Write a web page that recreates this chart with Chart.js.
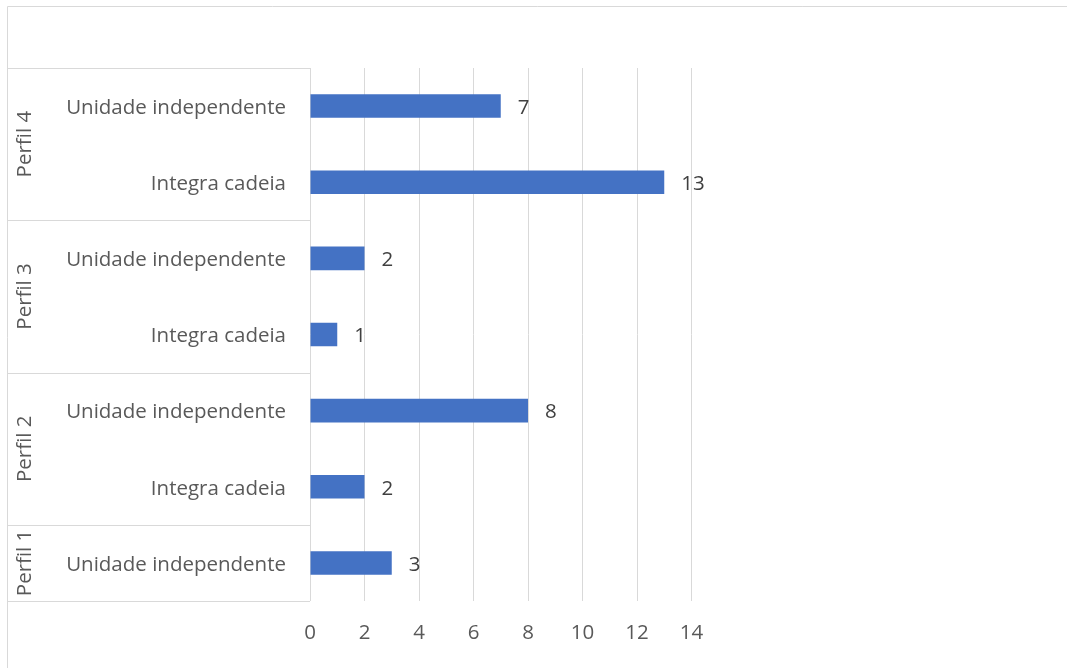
<!DOCTYPE html>
<html>
<head>
<meta charset="utf-8">
<script src="https://cdn.jsdelivr.net/npm/chart.js@4.4.1/dist/chart.umd.min.js"></script>
<style>
  html, body { margin: 0; padding: 0; background: #fff; }
  #wrap { width: 1067px; height: 668px; }
</style>
</head>
<body>
<div id="wrap"><canvas id="chart" width="1067" height="668"></canvas></div>
<script>
// top to bottom, as drawn
const groups = ['Perfil 4', 'Perfil 4', 'Perfil 3', 'Perfil 3', 'Perfil 2', 'Perfil 2', 'Perfil 1'];
const categories = ['Unidade independente', 'Integra cadeia', 'Unidade independente', 'Integra cadeia',
                    'Unidade independente', 'Integra cadeia', 'Unidade independente'];
const values = [7, 13, 2, 1, 8, 2, 3];
const xTicks = [0, 2, 4, 6, 8, 10, 12, 14];

const FONT = '"Open Sans", Lato, sans-serif';
const FONT_SIZE = 20.5;
const LINE = '#d9d9d9';
const BOX_LEFT = 7;

// outer frame of the chart (only top and left edges show)
const frame = {
    id: 'frame',
    beforeDraw(chart) {
        const { ctx, width, height } = chart;
        ctx.save();
        ctx.strokeStyle = LINE;
        ctx.lineWidth = 1;
        ctx.beginPath();
        ctx.moveTo(BOX_LEFT + 0.5, height);
        ctx.lineTo(BOX_LEFT + 0.5, 6.5);
        ctx.lineTo(width, 6.5);
        ctx.stroke();
        ctx.restore();
    }
};

// second level of the category axis: boxes + rotated group names
const groupAxis = {
    id: 'groupAxis',
    afterDraw(chart) {
        const { ctx, chartArea: { top, bottom, left } } = chart;
        const y = chart.scales.y;
        const step = y.getPixelForValue(1) - y.getPixelForValue(0);
        ctx.save();
        ctx.strokeStyle = LINE;
        ctx.lineWidth = 1;
        ctx.beginPath();
        ctx.moveTo(BOX_LEFT, Math.round(top) + 0.5);
        ctx.lineTo(left, Math.round(top) + 0.5);
        ctx.moveTo(BOX_LEFT, Math.round(bottom) + 0.5);
        ctx.lineTo(left, Math.round(bottom) + 0.5);

        let start = 0;
        for (let i = 1; i <= groups.length; i++) {
            if (i === groups.length || groups[i] !== groups[start]) {
                const y0 = y.getPixelForValue(start) - step / 2;
                const y1 = y.getPixelForValue(i - 1) + step / 2;
                if (i < groups.length) {
                    ctx.moveTo(BOX_LEFT, Math.round(y1) + 0.5);
                    ctx.lineTo(left, Math.round(y1) + 0.5);
                }
                ctx.save();
                ctx.translate(BOX_LEFT + 18, (y0 + y1) / 2);
                ctx.rotate(-Math.PI / 2);
                ctx.fillStyle = '#595959';
                ctx.font = FONT_SIZE + 'px ' + FONT;
                ctx.textAlign = 'center';
                ctx.textBaseline = 'middle';
                ctx.fillText(groups[start], 0, 0);
                ctx.restore();
                start = i;
            }
        }
        ctx.stroke();
        ctx.restore();
    }
};

// value labels to the right of each bar
const barValues = {
    id: 'barValues',
    afterDatasetsDraw(chart) {
        const { ctx } = chart;
        const meta = chart.getDatasetMeta(0);
        ctx.save();
        ctx.fillStyle = '#404040';
        ctx.font = FONT_SIZE + 'px ' + FONT;
        ctx.textAlign = 'left';
        ctx.textBaseline = 'middle';
        meta.data.forEach((bar, i) => {
            ctx.fillText(String(values[i]), bar.x + 17, bar.y + 2);
        });
        ctx.restore();
    }
};

new Chart(document.getElementById('chart'), {
    type: 'bar',
    data: {
        labels: categories,
        datasets: [{
            data: values,
            backgroundColor: '#4472c4',
            borderWidth: 0,
            barPercentage: 0.31,
            categoryPercentage: 1
        }]
    },
    options: {
        indexAxis: 'y',
        responsive: false,
        animation: false,
        layout: { padding: { left: BOX_LEFT, top: 68, right: 375.5, bottom: 0 } },
        plugins: {
            legend: { display: false },
            tooltip: { enabled: false }
        },
        scales: {
            x: {
                min: xTicks[0],
                max: xTicks[xTicks.length - 1],
                afterBuildTicks(scale) {
                    scale.ticks = xTicks.map(v => ({ value: v }));
                },
                afterFit(scale) { scale.height = 67; },
                grid: { color: LINE, lineWidth: 1, drawTicks: false },
                border: { display: false },
                ticks: {
                    padding: 20,
                    color: '#595959',
                    font: { family: FONT, size: FONT_SIZE }
                }
            },
            y: {
                afterFit(scale) { scale.width = 303; },
                grid: { display: false, drawTicks: false },
                border: { display: false },
                ticks: {
                    padding: 24,
                    labelOffset: 2,
                    color: '#595959',
                    font: { family: FONT, size: FONT_SIZE }
                }
            }
        }
    },
    plugins: [frame, groupAxis, barValues]
});
</script>
</body>
</html>
